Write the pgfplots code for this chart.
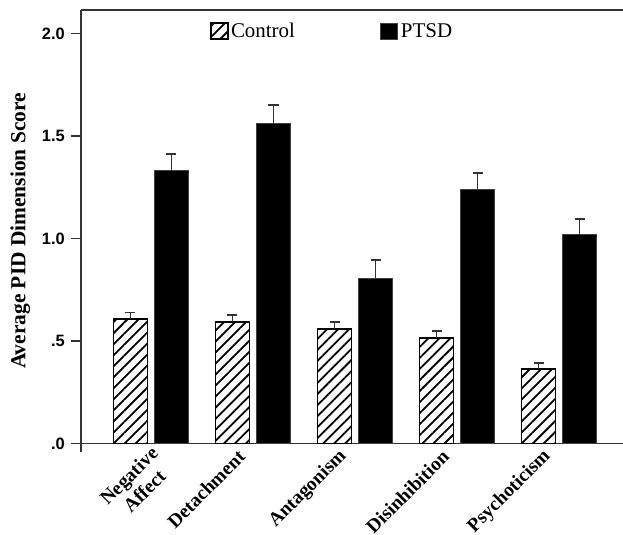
\documentclass[border=0pt]{standalone}
\usepackage{pgfplots}
\pgfplotsset{compat=1.18}
\usetikzlibrary{patterns.meta}
\usepackage{fontspec}
\setmainfont{Liberation Serif}
\newfontfamily\arialfont{Liberation Sans}

\begin{document}
\begin{tikzpicture}
\begin{axis}[
  at={(81bp,83bp)}, anchor=south west,
  scale only axis, width=542bp, height=442bp,
  xmin=-0.686, xmax=4.627, ymin=-0.042, ymax=2.115,
  ybar, bar width=34bp,
  axis lines*=left,
  x axis line style={draw=none},
  y axis line style={black!80, line width=1.2bp},
  tick align=outside,
  xtick={1,2,3,4},
  xticklabels={Detachment,Antagonism,Disinhibition,Psychoticism},
  x tick style={draw=none},
  xticklabel style={rotate=45, anchor=east, align=center, font=\fontsize{19.5}{16}\selectfont\bfseries, inner sep=1bp, xshift=-1bp, yshift=14bp},
  extra x ticks={0},
  extra x tick labels={{Negative\\Affect}},
  extra x tick style={x tick style={draw=none}, xticklabel style={font=\fontsize{19.5}{22}\selectfont\bfseries, xshift=13bp, yshift=-19bp}},
  ytick={0,0.5,1,1.5,2},
  yticklabels={.0,.5,1.0,1.5,2.0},
  y tick style={black!80, line width=1.2bp},
  major tick length=10bp,
  yticklabel style={font=\arialfont\bfseries\fontsize{16.5}{18}\selectfont, inner sep=1bp, xshift=-5bp},
  extra y ticks={0,2.115},
  extra y tick labels={},
  extra y tick style={grid=major, major grid style={black!80, line width=1.2bp}, tick style={draw=none}},
  ylabel={Average PID Dimension Score},
  ylabel style={at={(axis description cs:-0.112,0.5)}, anchor=center, font=\fontsize{21.5}{22}\selectfont\bfseries},
  legend style={at={(axis description cs:0.232,0.981)}, anchor=north west, draw=none, fill=none,
    legend columns=2, font=\fontsize{21}{22}\selectfont,
    /tikz/every even column/.append style={column sep=83bp}, nodes={inner sep=2.5bp}},
  legend image code/.code={\draw[#1] (0bp,-8bp) rectangle (17bp,8bp);},
  error bars/error bar style={black!80, line width=1.3bp, solid},
  error bars/error mark options={rotate=90, mark size=5bp, black!80, line width=1.3bp},
]
\addplot[draw=black, line width=1.6bp, pattern={Lines[angle=45,distance=7.8bp,line width=1.8bp]},
  bar shift=-20.5bp,
  error bars/.cd, y dir=plus, y explicit]
  coordinates {(0,0.607) +- (0,0.033) (1,0.593) +- (0,0.034) (2,0.558) +- (0,0.035) (3,0.515) +- (0,0.034) (4,0.363) +- (0,0.030)};
\addlegendentry{Control}
\addplot[draw=black!75, fill=black, line width=1bp,
  bar shift=20.5bp,
  error bars/.cd, y dir=plus, y explicit]
  coordinates {(0,1.334) +- (0,0.078) (1,1.559) +- (0,0.092) (2,0.807) +- (0,0.088) (3,1.237) +- (0,0.083) (4,1.017) +- (0,0.078)};
\addlegendentry{PTSD}
\end{axis}
\pgfresetboundingbox
\path[use as bounding box] (0,0) rectangle (623bp,535bp);
\end{tikzpicture}
\end{document}
